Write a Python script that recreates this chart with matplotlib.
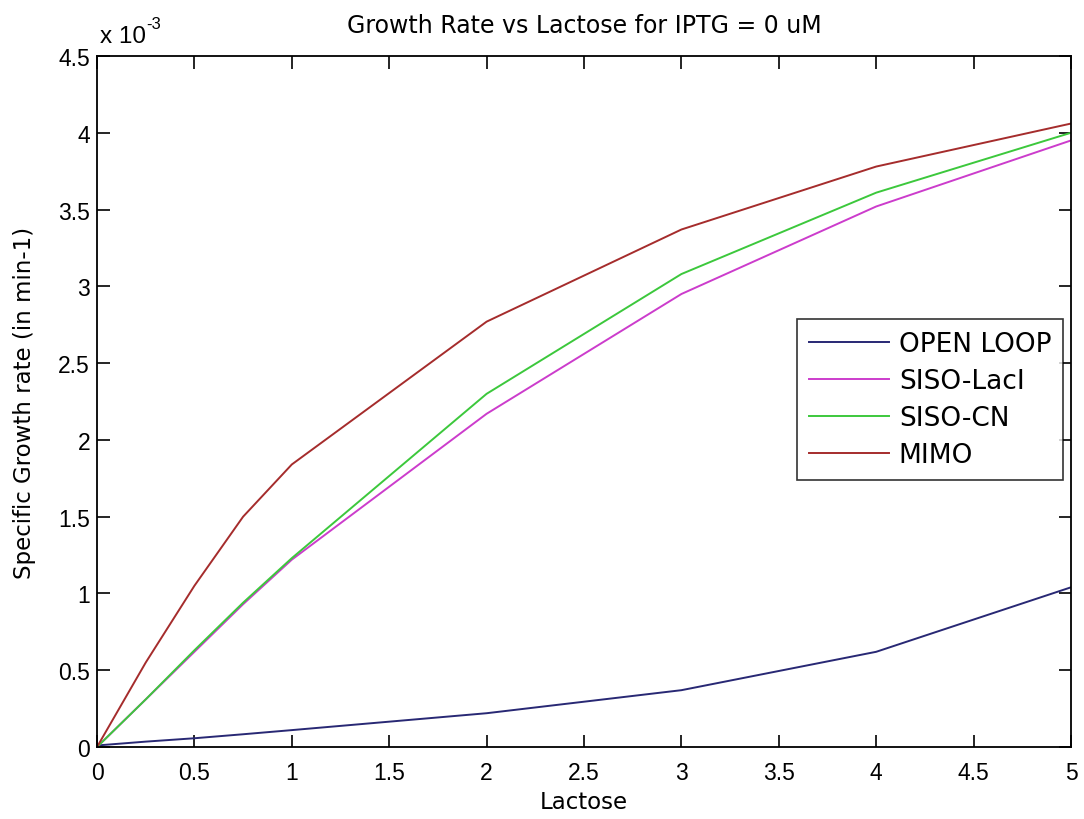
import matplotlib
matplotlib.use("Agg")
import matplotlib.pyplot as plt
from matplotlib.ticker import MultipleLocator, FuncFormatter

plt.rcParams['font.family'] = ['Liberation Sans', 'DejaVu Sans']
WIDE = ['DejaVu Sans']

lactose = [0, 0.25, 0.5, 0.75, 1, 2, 3, 4, 5]
open_loop = [0.01, 0.035, 0.057, 0.083, 0.11, 0.22, 0.37, 0.62, 1.04]
siso_laci = [0.0, 0.31, 0.62, 0.93, 1.22, 2.17, 2.95, 3.52, 3.95]
siso_cn = [0.0, 0.31, 0.63, 0.94, 1.23, 2.30, 3.08, 3.61, 4.00]
mimo = [0.0, 0.55, 1.05, 1.50, 1.84, 2.77, 3.37, 3.78, 4.06]
scale = 1e-3

series = [
    ("OPEN LOOP", open_loop, "#282874"),
    ("SISO-LacI", siso_laci, "#cc3ccc"),
    ("SISO-CN", siso_cn, "#3cc83c"),
    ("MIMO", mimo, "#a52c2c"),
]

fig = plt.figure(figsize=(10.84, 8.2), dpi=100)
ax = fig.add_axes([0.0895, 0.0878, 0.8985, 0.8427])

for name, vals, col in series:
    ax.plot(lactose, [v * scale for v in vals], color=col, lw=1.4, label=name)

ax.set_xlim(0, 5)
ax.set_ylim(0, 4.5e-3)
ax.xaxis.set_major_locator(MultipleLocator(0.5))
ax.yaxis.set_major_locator(MultipleLocator(0.5e-3))
ax.xaxis.set_major_formatter(FuncFormatter(lambda v, p: f"{v:g}"))
ax.yaxis.set_major_formatter(FuncFormatter(lambda v, p: f"{v/scale:g}"))
ax.tick_params(direction='in', length=9, width=1.2, labelsize=16.5, top=True, right=True)
ax.tick_params(axis='x', pad=10)
ax.tick_params(axis='y', pad=5)
for s in ax.spines.values():
    s.set_linewidth(1.3)

ax.set_title("Growth Rate vs Lactose for IPTG = 0 uM", fontsize=17, pad=17, family=WIDE)
ax.set_xlabel("Lactose", fontsize=16.5, family=WIDE)
ax.set_ylabel("Specific Growth rate (in min-1)", fontsize=16.5, family=WIDE)
ax.xaxis.set_label_coords(0.5, -0.062)
ax.yaxis.set_label_coords(-0.0626, 0.5)

# multiplier label "x 10^-3"
t1 = ax.text(0.003, 1.020, "x 10", transform=ax.transAxes, fontsize=17.5,
             ha='left', va='baseline')
fig.canvas.draw()
bb = t1.get_window_extent()
fig.text(bb.x1 / fig.bbox.width, (bb.y0 + 19) / fig.bbox.height, "-3", fontsize=12,
         ha='left', va='baseline')

leg = ax.legend(loc='upper right', bbox_to_anchor=(0.992, 0.619), prop={'family': WIDE, 'size': 19},
                frameon=True, fancybox=False, edgecolor='black', handlelength=3.03,
                handletextpad=0.38, borderpad=0.45, labelspacing=0.42, borderaxespad=0)
leg.get_frame().set_linewidth(1.2)

fig.savefig("out.png", dpi=100)
